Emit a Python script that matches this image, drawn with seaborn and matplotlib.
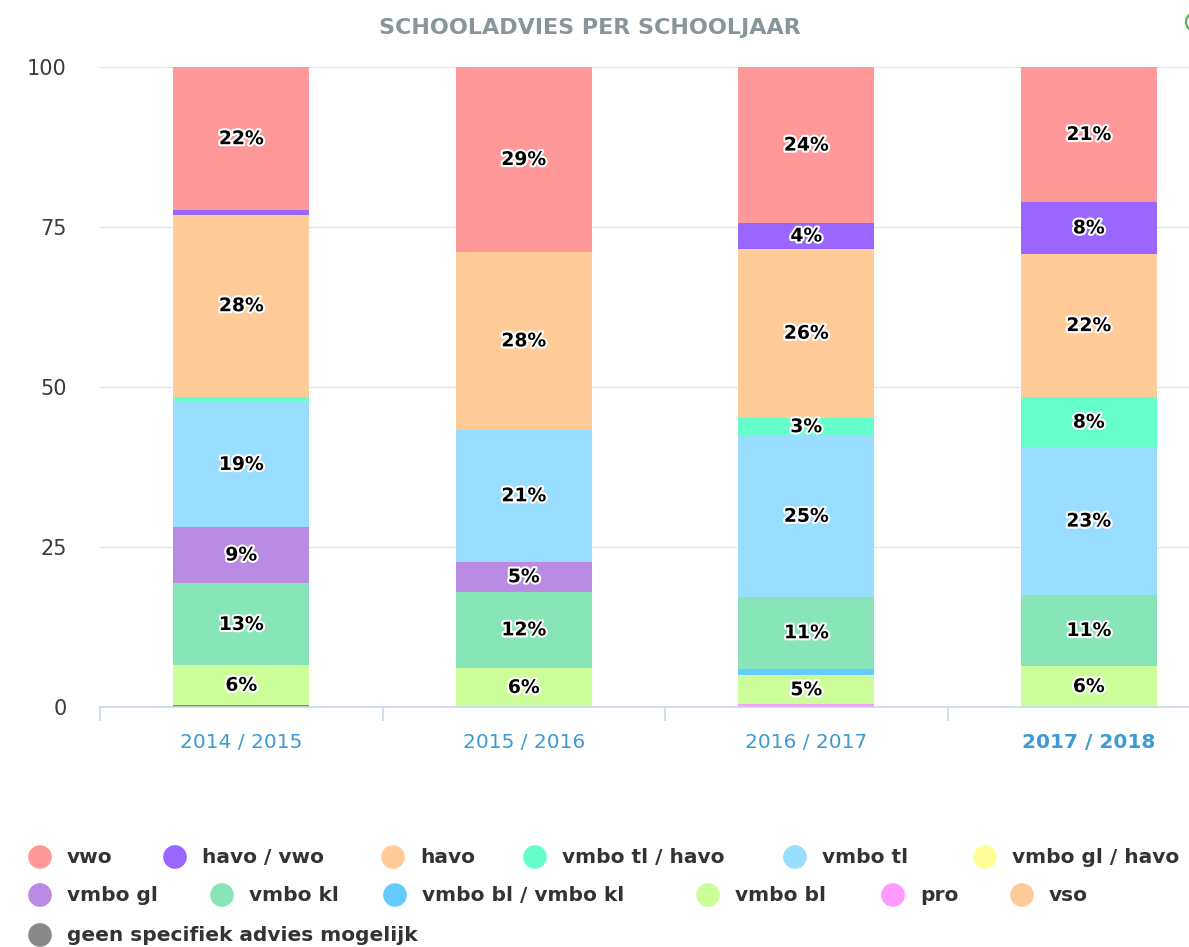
import numpy as np
import pandas as pd
import matplotlib
matplotlib.use("Agg")
import matplotlib.pyplot as plt
import matplotlib.patheffects as pe
from matplotlib.patches import Circle
import seaborn as sns

####data####
years = ["2014 / 2015", "2015 / 2016", "2016 / 2017", "2017 / 2018"]
series = ["vwo", "havo / vwo", "havo", "vmbo tl / havo", "vmbo tl", "vmbo gl / havo",
          "vmbo gl", "vmbo kl", "vmbo bl / vmbo kl", "vmbo bl", "pro", "vso",
          "geen specifiek advies mogelijk"]
colors = ["#ff9999", "#9966ff", "#ffcc99", "#66ffcc", "#99ddff", "#ffff99",
          "#b98be3", "#88e5b8", "#66ccff", "#ccff99", "#ff99ff", "#ffcc99", "#888888"]

vwo          = [22.4, 28.9, 24.4, 21.1]
havo_vwo     = [0.7, 0.0, 4.0, 8.1]
havo         = [28.4, 27.8, 26.4, 22.4]
vmbo_tl_havo = [0.9, 0.0, 2.8, 7.8]
vmbo_tl      = [19.4, 20.6, 25.2, 23.1]
vmbo_gl_havo = [0.0, 0.0, 0.0, 0.0]
vmbo_gl      = [8.9, 4.7, 0.0, 0.0]
vmbo_kl      = [12.8, 11.9, 11.2, 11.1]
vmbo_bl_kl   = [0.0, 0.0, 1.0, 0.0]
vmbo_bl      = [6.2, 6.1, 4.6, 6.4]
pro          = [0.0, 0.0, 0.4, 0.0]
vso          = [0.0, 0.0, 0.0, 0.0]
geen         = [0.3, 0.0, 0.0, 0.0]

values = [vwo, havo_vwo, havo, vmbo_tl_havo, vmbo_tl, vmbo_gl_havo, vmbo_gl,
          vmbo_kl, vmbo_bl_kl, vmbo_bl, pro, vso, geen]

W, H = 1189, 947
fig = plt.figure(figsize=(W / 100, H / 100), dpi=100)
ax = fig.add_axes([100 / W, 1 - 707 / H, 1130 / W, 640 / H])

# stack: first series on top -> cumulative from the bottom (last series)
vals = np.array(values)
tops = np.cumsum(vals[::-1], axis=0)[::-1]     # top edge of each series
bottoms = tops - vals

for i, name in enumerate(series):
    df = pd.DataFrame({"year": years, "top": tops[i]})
    sns.barplot(data=df, x="year", y="top", order=years, color=colors[i],
                width=0.48, saturation=1, edgecolor="none", linewidth=0, ax=ax)

# data labels
for i, name in enumerate(series):
    for j in range(len(years)):
        v = vals[i, j]
        if v >= 2.5:
            ax.text(j, bottoms[i, j] + v / 2, f"{round(v)}%", ha="center", va="center",
                    fontsize=13.5, fontweight="bold", color="black", family="DejaVu Sans",
                    path_effects=[pe.withStroke(linewidth=3, foreground="white")], zorder=5)

####axes####
ax.set_xlim(-0.5, 3.5)
ax.set_ylim(0, 100)
ax.set_yticks([0, 25, 50, 75, 100])
ax.grid(axis="y", color="#e6e6e6", linewidth=1)
ax.set_axisbelow(True)
for s in ["top", "right", "left"]:
    ax.spines[s].set_visible(False)
ax.spines["bottom"].set_color("#ccd6eb")
ax.spines["bottom"].set_linewidth(1.2)
ax.tick_params(axis="y", length=0, pad=24, labelsize=15, labelcolor="#3a3a3a")
ax.set_xticks([0, 1, 2, 3])
ax.set_xticklabels(years)
ax.tick_params(axis="x", length=0, pad=19, labelsize=14.5, labelcolor="#3d9ad6")
ax.set_xticks([-0.5, 0.5, 1.5, 2.5], minor=True)
ax.tick_params(axis="x", which="minor", length=10, color="#ccd6eb", width=1.2)
ax.get_xticklabels()[-1].set_fontweight("bold")
ax.set_xlabel("")
ax.set_ylabel("")

fig.text(590 / W, 1 - 28 / H, "SCHOOLADVIES PER SCHOOLJAAR", ha="center", va="center",
         fontsize=16, fontweight="bold", color="#88959b", family="DejaVu Sans")

# partial button at top right
fig.add_artist(Circle((1200 / W, 1 - 22 / H), 14 / W, transform=fig.transFigure,
                      facecolor="white", edgecolor="#4caf50", linewidth=1.5))

####legend####
lx = fig.add_axes([0, 0, 1, 1], facecolor="none")
lx.set_xlim(0, W)
lx.set_ylim(H, 0)
lx.axis("off")
leg_pos = [(40, 857), (175, 857), (393, 857), (535, 857), (795, 857), (985, 857),
           (40, 895), (222, 895), (395, 895), (708, 895), (893, 895), (1022, 895),
           (40, 935)]
for (px, py), name, c in zip(leg_pos, series, colors):
    lx.scatter([px], [py], s=290, color=c, edgecolor="none")
    lx.text(px + 27, py, name, ha="left", va="center", fontsize=14.5, fontweight="bold",
            color="#333333", family="DejaVu Sans")

plt.savefig("out.png", dpi=100)
